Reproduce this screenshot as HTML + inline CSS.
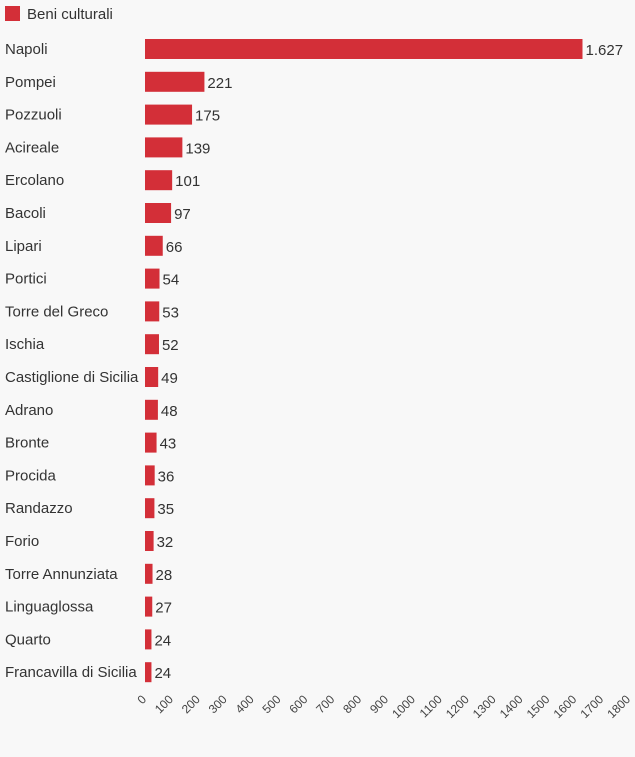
<!DOCTYPE html>
<html><head><meta charset="utf-8">
<style>
html,body{margin:0;padding:0;background:#f8f8f8;}
svg{display:block;font-family:"Liberation Sans",sans-serif;}
</style></head>
<body>
<svg id="chart" width="635" height="757" viewBox="0 0 635 757">
  <g>
    <rect x="5" y="6" width="15" height="15" fill="#d32f38"/>
    <text x="27" y="19" font-size="15" fill="#333">Beni culturali</text>
  </g>
  <g id="bars"></g>
  <g id="xaxis"></g>
</svg>
<script>
const categories = ["Napoli","Pompei","Pozzuoli","Acireale","Ercolano","Bacoli","Lipari","Portici","Torre del Greco","Ischia","Castiglione di Sicilia","Adrano","Bronte","Procida","Randazzo","Forio","Torre Annunziata","Linguaglossa","Quarto","Francavilla di Sicilia"];
const values = [1627,221,175,139,101,97,66,54,53,52,49,48,43,36,35,32,28,27,24,24];
const ticks = [0,100,200,300,400,500,600,700,800,900,1000,1100,1200,1300,1400,1500,1600,1700,1800];

const NS = "http://www.w3.org/2000/svg";
const x0 = 145, scale = 0.2689;
function xScale(v){ return x0 + v*scale; }
const y0 = 49, step = 32.8;
function yScale(i){ return y0 + i*step; }
function fmt(v){ return String(v).replace(/\B(?=(\d{3})+(?!\d))/g, "."); }

const bars = document.getElementById("bars");
categories.forEach((c,i)=>{
  const cy = yScale(i);
  const lab = document.createElementNS(NS,"text");
  
  
  lab.setAttribute("x",5); lab.setAttribute("y",cy+5);
  lab.setAttribute("font-size","15"); lab.setAttribute("fill","#333");
  lab.textContent = c;
  bars.appendChild(lab);
  const r = document.createElementNS(NS,"rect");
  
  
  r.setAttribute("x",x0); r.setAttribute("y",cy-10);
  r.setAttribute("width",Math.max(0,xScale(values[i])-x0)); r.setAttribute("height",20);
  r.setAttribute("fill","#d32f38");
  bars.appendChild(r);
  const vl = document.createElementNS(NS,"text");
  
  
  vl.setAttribute("x",xScale(values[i])+3); vl.setAttribute("y",cy+6);
  vl.setAttribute("font-size","15"); vl.setAttribute("fill","#333");
  vl.textContent = fmt(values[i]);
  bars.appendChild(vl);
});

const ax = document.getElementById("xaxis");
ticks.forEach(t=>{
  const tx = document.createElementNS(NS,"text");
  
  
  const x = xScale(t)+2, y = 700;
  tx.setAttribute("x",x); tx.setAttribute("y",y);
  tx.setAttribute("text-anchor","end");
  tx.setAttribute("font-size","12"); tx.setAttribute("fill","#444");
  tx.setAttribute("transform","rotate(-45 "+x+" "+y+")");
  tx.textContent = t;
  ax.appendChild(tx);
});
</script>
</body></html>
